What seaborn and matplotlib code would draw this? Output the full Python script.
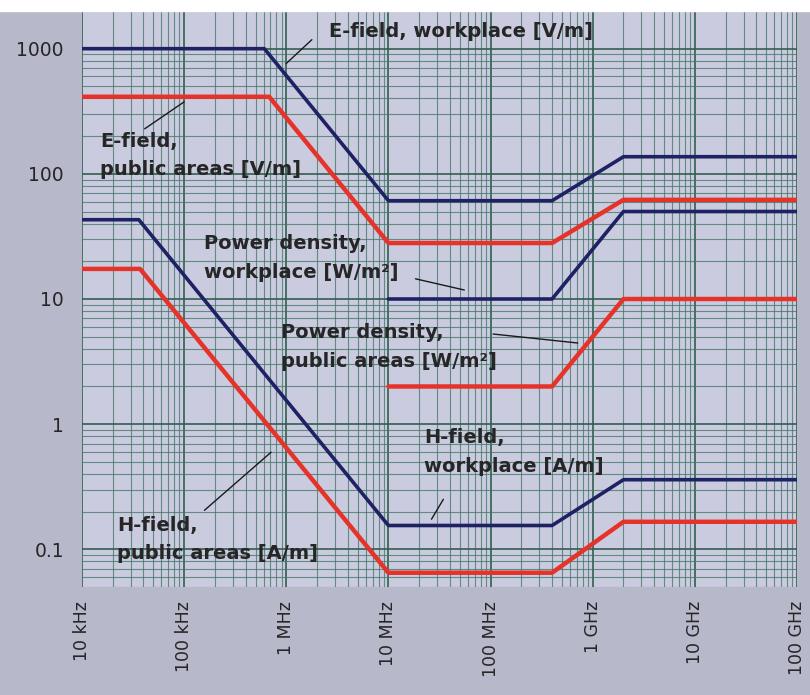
import matplotlib
matplotlib.use("Agg")
import matplotlib.pyplot as plt
import matplotlib.ticker as mticker
from matplotlib.patches import Rectangle
import pandas as pd
import seaborn as sns

# limit curves, frequency in Hz
freq_e_work = [1e4, 0.61e6, 10e6, 400e6, 2e9, 1e11]
e_work = [1000, 1000, 61, 61, 137, 137]
freq_e_pub = [1e4, 0.68e6, 10e6, 400e6, 2e9, 1e11]
e_pub = [413, 413, 28, 28, 62, 62]
freq_s = [10e6, 400e6, 2e9, 1e11]
s_work = [10, 10, 50, 50]
s_pub = [2, 2, 10, 10]
freq_h_work = [1e4, 36e3, 10e6, 400e6, 2e9, 1e11]
h_work = [43, 43, 0.155, 0.155, 0.36, 0.36]
freq_h_pub = [1e4, 37e3, 10e6, 400e6, 2e9, 1e11]
h_pub = [17.4, 17.4, 0.065, 0.065, 0.166, 0.166]

xticks = [1e4, 1e5, 1e6, 1e7, 1e8, 1e9, 1e10, 1e11]
xlabels = ["10 kHz", "100 kHz", "1 MHz", "10 MHz", "100 MHz", "1 GHz", "10 GHz", "100 GHz"]
yticks = [0.1, 1, 10, 100, 1000]
ylabels = ["0.1", "1", "10", "100", "1000"]

NAVY = "#1e2163"
RED = "#e5332a"
TXT = "#262626"

sns.set_style("white")
plt.rcParams["font.family"] = ["DejaVu Sans"]

fig = plt.figure(figsize=(8.1, 6.95), dpi=100, facecolor="#b7b8ca")
ax = fig.add_axes([82 / 810, 1 - 587 / 695, 715 / 810, 576 / 695])
ax.set_facecolor("#cacbdf")
fig.patches.append(Rectangle((0, 1 - 11 / 695), 1, 11 / 695,
                             transform=fig.transFigure, color="white", zorder=0))

series = [
    (freq_e_work, e_work, NAVY, 2.6),
    (freq_e_pub, e_pub, RED, 3.2),
    (freq_s, s_work, NAVY, 2.6),
    (freq_s, s_pub, RED, 3.2),
    (freq_h_work, h_work, NAVY, 2.6),
    (freq_h_pub, h_pub, RED, 3.2),
]
for fx, vy, col, lw in series:
    df = pd.DataFrame({"f": fx, "v": vy})
    sns.lineplot(data=df, x="f", y="v", color=col, lw=lw, ax=ax, zorder=3)

ax.set_xscale("log")
ax.set_yscale("log")
ax.set_xlim(1e4, 1e11)
ax.set_ylim(0.05, 2000)
ax.xaxis.set_minor_locator(mticker.LogLocator(base=10, subs=range(2, 10), numticks=20))
ax.yaxis.set_minor_locator(mticker.LogLocator(base=10, subs=range(2, 10), numticks=20))
ax.xaxis.set_minor_formatter(mticker.NullFormatter())
ax.yaxis.set_minor_formatter(mticker.NullFormatter())
ax.set_xticks(xticks)
ax.set_xticklabels(xlabels, rotation=90, fontsize=12.5, color=TXT)
ax.set_yticks(yticks)
ax.set_yticklabels(ylabels, fontsize=13.5, color=TXT)
ax.tick_params(axis="x", which="both", length=0, pad=10)
ax.tick_params(axis="y", which="major", length=5, color="#3d6a5a", pad=8)
ax.tick_params(axis="y", which="minor", length=0)
ax.grid(which="major", color="#2f5c4c", lw=1.3, alpha=0.9)
ax.grid(which="minor", color="#3f7563", lw=0.8, alpha=0.75)
ax.set_xlabel("")
ax.set_ylabel("")
for s in ax.spines.values():
    s.set_visible(False)

lab = dict(fontsize=14, fontweight="bold", color=TXT, ha="left", va="center",
           linespacing=1.65, zorder=5)
ax.text(2.61e6, 1368, "E-field, workplace [V/m]", **lab)
ax.text(1.5e4, 140, "E-field,\npublic areas [V/m]", **lab)
ax.text(1.58e5, 21.3, "Power density,\nworkplace [W/m²]", **lab)
ax.text(8.9e5, 4.13, "Power density,\npublic areas [W/m²]", **lab)
ax.text(2.25e7, 0.6, "H-field,\nworkplace [A/m]", **lab)
ax.text(2.19e4, 0.12, "H-field,\npublic areas [A/m]", **lab)

# leader lines from labels to curves
leaders = [
    ((1.78e6, 1180), (0.995e6, 759)),
    ((4.11e4, 229), (1.0e5, 376)),
    ((1.84e7, 14.5), (5.53e7, 11.8)),
    ((1.06e8, 5.25), (7.14e8, 4.45)),
    ((3.45e7, 0.251), (2.64e7, 0.174)),
    ((1.58e5, 0.205), (7.1e5, 0.597)),
]
for (x0, y0), (x1, y1) in leaders:
    ax.plot([x0, x1], [y0, y1], color="#1a1a1a", lw=1.0, zorder=4)

fig.savefig("out.png", dpi=100, facecolor=fig.get_facecolor())
